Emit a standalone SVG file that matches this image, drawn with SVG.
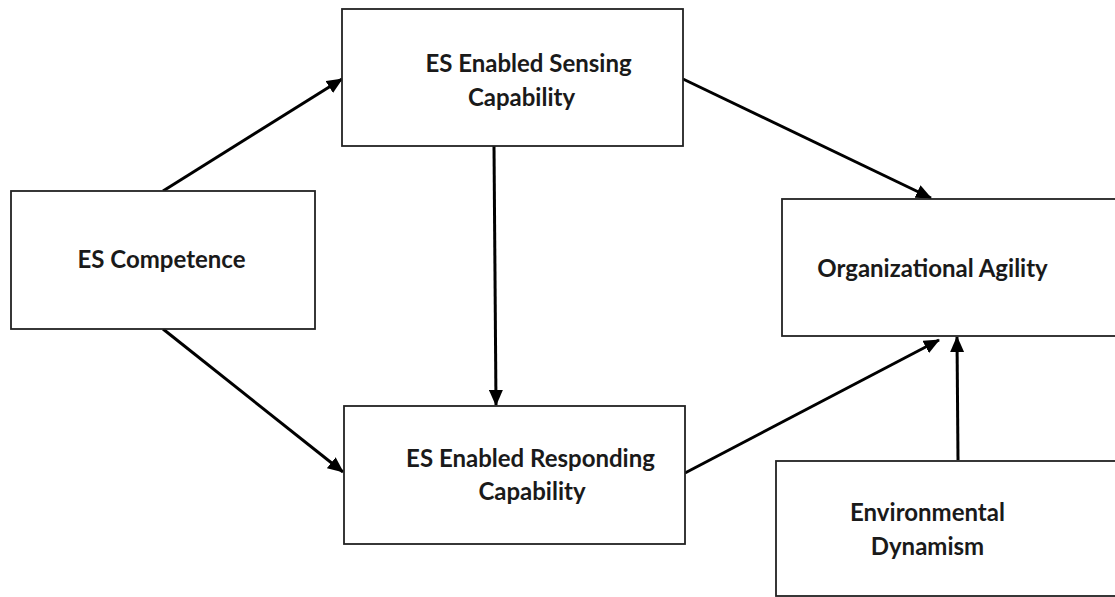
<svg xmlns="http://www.w3.org/2000/svg" width="1115" height="597" viewBox="0 0 1115 597">
<style>
.box{fill:#fff;stroke:#222;stroke-width:1.8}
.lbl{font-family:Lato,"Liberation Sans",sans-serif;font-weight:700;font-size:24px;fill:#1a1a1a;text-anchor:middle}
.con{stroke:#000;stroke-width:3;fill:none;marker-end:url(#ah)}
</style>
<defs>
<marker id="ah" markerUnits="userSpaceOnUse" markerWidth="16" markerHeight="14" viewBox="0 0 16 14" refX="15" refY="7" orient="auto">
<path d="M0,0 L16,7 L0,14 Z" fill="#000"/>
</marker>
</defs>
<rect width="1115" height="597" fill="#fff"/>
<g id="connectors">
<path class="con" d="M163,191 L342,79"/>
<path class="con" d="M683,79 L931,198"/>
<path class="con" d="M494,146 L496,405"/>
<path class="con" d="M163,329 L343,472"/>
<path class="con" d="M685,473 L939,340"/>
<path class="con" d="M958,460 L957,337"/>
</g>
<g id="es-competence">
<rect class="box" x="11" y="191" width="304" height="138"/>
<text class="lbl" x="161.5" y="268">ES Competence</text>
</g>
<g id="sensing">
<rect class="box" x="342" y="9" width="341" height="137"/>
<text class="lbl" x="528.5" y="72">ES Enabled Sensing</text>
<text class="lbl" x="521.5" y="106">Capability</text>
</g>
<g id="responding">
<rect class="box" x="344" y="406" width="341" height="138"/>
<text class="lbl" x="530.5" y="467">ES Enabled Responding</text>
<text class="lbl" x="532" y="500">Capability</text>
</g>
<g id="agility">
<rect class="box" x="782" y="199" width="345" height="137"/>
<text class="lbl" x="932.5" y="277">Organizational Agility</text>
</g>
<g id="dynamism">
<rect class="box" x="776" y="461" width="350" height="135"/>
<text class="lbl" x="927.5" y="521">Environmental</text>
<text class="lbl" x="927.5" y="555">Dynamism</text>
</g>
</svg>
